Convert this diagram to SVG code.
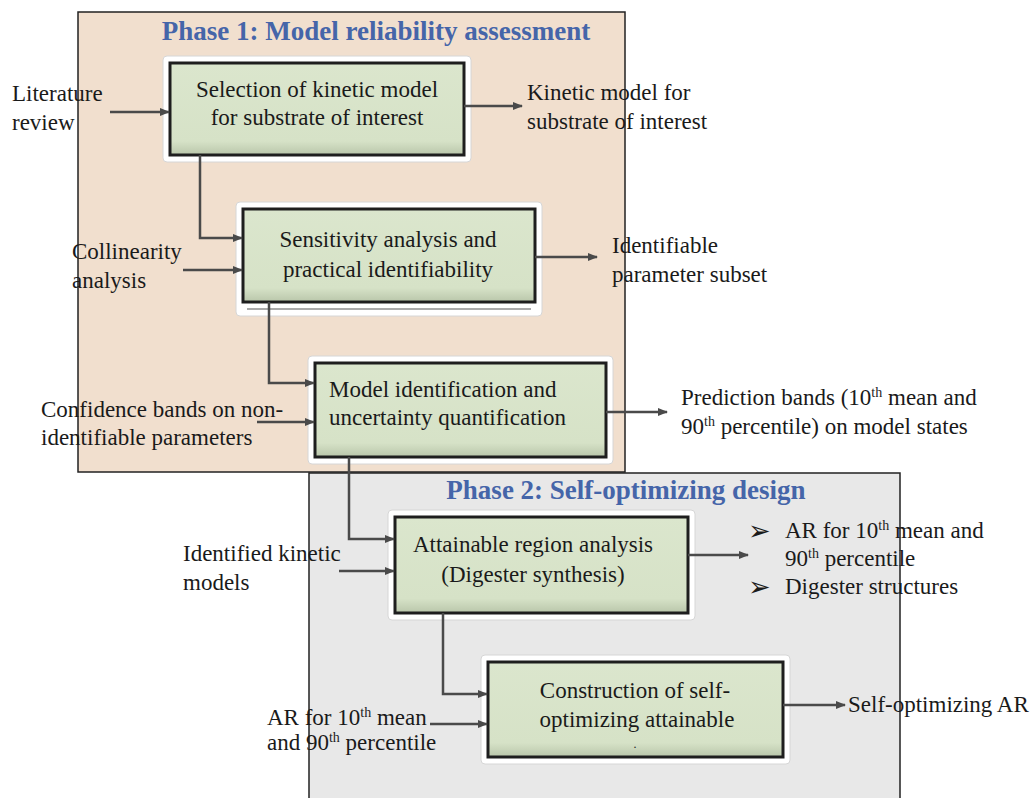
<svg xmlns="http://www.w3.org/2000/svg" width="1034" height="798" viewBox="0 0 1034 798">
<defs>
<style>
.t{font-family:"Liberation Serif","Times New Roman",serif;font-size:23px;fill:#1a1a1a}
.c{text-anchor:middle}
.sup{font-size:14px}
.title{font-family:"Liberation Serif","Times New Roman",serif;font-size:27px;font-weight:bold;fill:#4565a9;text-anchor:middle}
.halo{fill:#ffffff;stroke:#d6d6d6;stroke-width:1}
.box{fill:url(#g);stroke:#1e1e1e;stroke-width:3}
.ln{fill:none;stroke:#4a4a4a;stroke-width:2.5}
.bul{font-family:"DejaVu Sans",sans-serif;font-size:27px;fill:#1a1a1a}
</style>
<linearGradient id="g" x1="0" y1="0" x2="0" y2="1">
<stop offset="0" stop-color="#dbe6cd"/>
<stop offset="0.85" stop-color="#d6e2c7"/>
<stop offset="1" stop-color="#b9c6aa"/>
</linearGradient>
<marker id="a" markerWidth="10" markerHeight="8" refX="9" refY="4" orient="auto" markerUnits="userSpaceOnUse">
<path d="M0,0 L10,4 L0,8 Z" fill="#4a4a4a"/>
</marker>
</defs>
<rect width="1034" height="798" fill="#ffffff"/>
<g id="phase1">
<rect x="78" y="12" width="547" height="460" fill="#f1dfce" stroke="#222" stroke-width="1.5"/>
<text class="title" x="376" y="40">Phase 1: Model reliability assessment</text>
</g>
<g id="phase2">
<rect x="309" y="473" width="591" height="330" fill="#e8e8e8" stroke="#222" stroke-width="1.5"/>
<text class="title" x="626" y="499">Phase 2: Self-optimizing design</text>
</g>
<g id="n1">
<rect class="halo" x="163" y="56" width="308" height="106" rx="4"/>
<rect class="box" x="170" y="63" width="294" height="92"/>
<text class="t c" x="317" y="97">Selection of kinetic model</text>
<text class="t c" x="317" y="125">for substrate of interest</text>
</g>
<g id="n2">
<rect class="halo" x="236" y="202" width="306" height="114" rx="4"/>
<line x1="247" y1="309" x2="531" y2="309" stroke="#aaaaaa" stroke-width="2"/>
<rect class="box" x="243" y="209" width="292" height="93"/>
<text class="t c" x="388" y="247">Sensitivity analysis and</text>
<text class="t c" x="388" y="277">practical identifiability</text>
</g>
<g id="n3">
<rect class="halo" x="308" y="356" width="305" height="108" rx="4"/>
<rect class="box" x="315" y="363" width="291" height="94"/>
<text class="t" x="329" y="397">Model identification and</text>
<text class="t" x="329" y="425">uncertainty quantification</text>
</g>
<g id="n4">
<rect class="halo" x="388" y="510" width="307" height="110" rx="4"/>
<rect class="box" x="395" y="517" width="293" height="96"/>
<text class="t c" x="533" y="552">Attainable region analysis</text>
<text class="t c" x="533" y="582">(Digester synthesis)</text>
</g>
<g id="n5">
<rect class="halo" x="481" y="655" width="309" height="109" rx="4"/>
<rect class="box" x="488" y="662" width="295" height="95"/>
<text class="t c" x="635" y="698">Construction of self-</text>
<text class="t c" x="637" y="727">optimizing attainable</text>
<text class="t c" x="635" y="748" style="font-size:12px">.</text>
</g>
<g id="labels">
<text class="t" x="12" y="101">Literature</text>
<text class="t" x="12" y="130">review</text>
<text class="t" x="527" y="100">Kinetic model for</text>
<text class="t" x="527" y="129">substrate of interest</text>
<text class="t" x="72" y="259">Collinearity</text>
<text class="t" x="72" y="288">analysis</text>
<text class="t" x="612" y="253">Identifiable</text>
<text class="t" x="612" y="282">parameter subset</text>
<text class="t" x="41" y="417">Confidence bands on non-</text>
<text class="t" x="41" y="445">identifiable parameters</text>
<text class="t" x="681" y="405">Prediction bands (10<tspan class="sup" dy="-8">th</tspan><tspan dy="8"> mean and</tspan></text>
<text class="t" x="681" y="434">90<tspan class="sup" dy="-8">th</tspan><tspan dy="8"> percentile) on model states</tspan></text>
<text class="t" x="183" y="561">Identified kinetic</text>
<text class="t" x="183" y="590">models</text>
<text class="bul" x="748" y="540">➢</text>
<text class="t" x="785" y="538">AR for 10<tspan class="sup" dy="-8">th</tspan><tspan dy="8"> mean and</tspan></text>
<text class="t" x="785" y="566">90<tspan class="sup" dy="-8">th</tspan><tspan dy="8"> percentile</tspan></text>
<text class="bul" x="748" y="596">➢</text>
<text class="t" x="785" y="594">Digester structures</text>
<text class="t" x="267" y="725">AR for 10<tspan class="sup" dy="-8">th</tspan><tspan dy="8"> mean</tspan></text>
<text class="t" x="267" y="750">and 90<tspan class="sup" dy="-8">th</tspan><tspan dy="8"> percentile</tspan></text>
<text class="t" x="848" y="712">Self-optimizing AR</text>
</g>
<g id="connectors">
<path class="ln" d="M200,155 V238 H242" marker-end="url(#a)"/>
<path class="ln" d="M269,302 V383 H314" marker-end="url(#a)"/>
<path class="ln" d="M349,457 V539 H394" marker-end="url(#a)"/>
<path class="ln" d="M443,613 V694 H487" marker-end="url(#a)"/>
<path class="ln" d="M110,112 H169" marker-end="url(#a)"/>
<path class="ln" d="M183,270 H242" marker-end="url(#a)"/>
<path class="ln" d="M257,422 H314" marker-end="url(#a)"/>
<path class="ln" d="M339,571 H394" marker-end="url(#a)"/>
<path class="ln" d="M430,724 H487" marker-end="url(#a)"/>
<path class="ln" d="M464,106 H522" marker-end="url(#a)"/>
<path class="ln" d="M535,257 H597" marker-end="url(#a)"/>
<path class="ln" d="M606,412 H667" marker-end="url(#a)"/>
<path class="ln" d="M688,555 H748" marker-end="url(#a)"/>
<path class="ln" d="M783,705 H845" marker-end="url(#a)"/>
</g>
</svg>
